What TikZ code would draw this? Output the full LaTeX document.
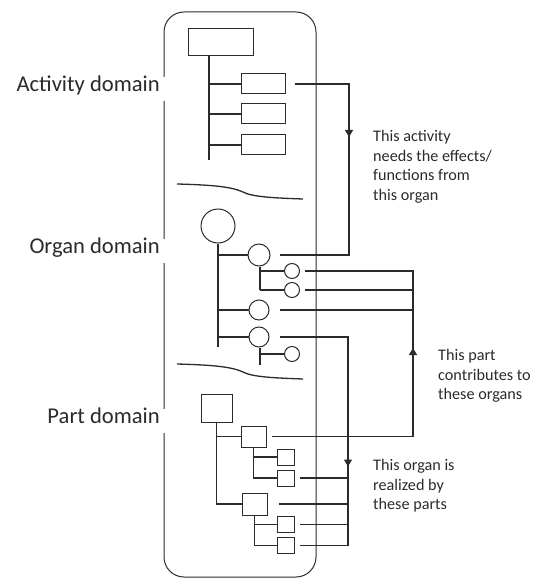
\documentclass[tikz,border=0pt]{standalone}
\usepackage{fontspec}
\setmainfont{Carlito}
\usetikzlibrary{arrows.meta}
\usetikzlibrary{calc}
\usetikzlibrary{decorations.markings}
\definecolor{ink}{HTML}{2B2B2B}

\begin{document}
\begin{tikzpicture}[x=1pt,y=-1pt,ink,
	box/.style={draw,rectangle,line width=1pt,inner sep=0pt},
	ball/.style={draw,circle,line width=1pt,inner sep=0pt},
	tree/.style={line width=1.4pt},
	link/.style={line width=1.4pt},
	tipat/.style={postaction={decorate},decoration={markings,mark=at position #1 with {\arrow{Triangle[length=7pt,width=8pt]}}}},
	domainlabel/.style={fill=white,anchor=base east,inner xsep=7pt,inner ysep=7pt,text height=0.75em,text depth=0.25em,font=\fontsize{22.6}{27}\selectfont},
	note/.style={anchor=north west,align=left,inner sep=0pt,font=\fontsize{16.2}{19.6}\selectfont}]
	\useasboundingbox (0,0) rectangle (534,580);

	% frame
	\draw[line width=1pt,rounded corners=20pt] (164,12) rectangle (316,577);

	% activity domain
	\node[box,minimum width=65,minimum height=27] (act0) at (220.5,42.5) {};
	\foreach \i/\y in {1/84,2/114,3/145} \node[box,minimum width=44,minimum height=20] (act\i) at (263,\y) {};
	\coordinate (actend) at (209,160);
	\draw[tree] (actend |- act0.south) -- (actend);
	\foreach \i in {1,...,3} \draw[tree] (actend |- act\i) -- (act\i.west);

	% organ domain
	\node[ball,minimum size=34] (org0) at (218,226) {};
	\node[ball,minimum size=22] (org1) at (259,255) {};
	\node[ball,minimum size=20] (org2) at (259,310) {};
	\node[ball,minimum size=20] (org3) at (259,337) {};
	\foreach \i/\y in {11/271,12/290,31/354} \node[ball,minimum size=15] (org\i) at (292,\y) {};
	\coordinate (orgend) at (218,347);
	\coordinate (org1end) at (260,290);
	\coordinate (org3end) at (260,365);
	\draw[tree] (org0.south) -- (orgend);
	\foreach \i in {1,2,3} \draw[tree] (orgend |- org\i) -- (org\i.west);
	\draw[tree] (org1end |- org1.south) -- (org1end);
	\foreach \i in {11,12} \draw[tree] (org1end |- org\i) -- (org\i.west);
	\draw[tree] (org3end |- org3.south) -- (org3end);
	\draw[tree] (org3end |- org31) -- (org31.west);

	% part domain
	\node[box,minimum width=31,minimum height=28] (part0) at (216.5,408) {};
	\node[box,minimum width=25,minimum height=21] (part1) at (253.5,436.5) {};
	\node[box,minimum width=25,minimum height=22] (part2) at (254.5,504) {};
	\foreach \i/\y in {11/457,12/478} \node[box,minimum width=17,minimum height=16] (part\i) at (285.5,\y) {};
	\foreach \i/\y in {21/524.5,22/545.5} \node[box,minimum width=17,minimum height=16] (part\i) at (286,\y) {};
	\draw[tree] (part0.south) |- (part2.west);
	\draw[tree] (part0.south |- part1) -- (part1.west);
	\draw[tree] (part1.south) |- (part12.west);
	\draw[tree] (part1.south |- part11) -- (part11.west);
	\draw[tree] (part2.south) |- (part22.west);
	\draw[tree] (part2.south |- part21) -- (part21.west);

	% separators
	\foreach \d in {0,180}
		\draw[line width=1.3pt] (177,184+\d) .. controls (215,185+\d) and (232,187+\d) .. (243,192+\d) .. controls (252,197+\d) and (275,198+\d) .. (303,199+\d);

	% connectors activity -> organ
	\coordinate (busA) at (349,0);
	\draw[link,tipat=107.5pt] ($(act1.east)+(9,0)$) -- (act1 -| busA) -- (org1 -| busA) -- ($(org1.east)+(9,0)$);

	% connectors part -> organs
	\coordinate (busB) at (413,0);
	\draw[link,tipat=230pt] ($(part1.east)+(5,0)$) -- (part1 -| busB) -- (org11 -| busB) -- ($(org11.east)+(5,0)$);
	\draw[link] ($(org12.east)+(5,0)$) -- (org12 -| busB);
	\draw[link] ($(org2.east)+(10,0)$) -- (org2 -| busB);

	% connectors organ -> parts
	\coordinate (busC) at (348,0);
	\draw[link,tipat=198pt] ($(org3.east)+(10,0)$) -- (org3 -| busC) -- (part22 -| busC) -- ($(part22.east)+(5,0)$);
	\foreach \n/\g in {part12/5,part2/11,part21/5} \draw[link] ($(\n.east)+(\g,0)$) -- (\n -| busC);

	% labels
	\node[domainlabel] (actlabel) at (167,92) {Activity domain};
	\node[domainlabel] (orglabel) at (167,253) {Organ domain};
	\node[domainlabel] (partlabel) at (167,423) {Part domain};
	\node[note] (actnote) at (373,130) {This activity\\needs the effects/\\functions from\\this organ};
	\node[note] (partnote) at (438,349) {This part\\contributes to\\these organs};
	\node[note] (orgnote) at (373,459) {This organ is\\realized by\\these parts};
\end{tikzpicture}
\end{document}
